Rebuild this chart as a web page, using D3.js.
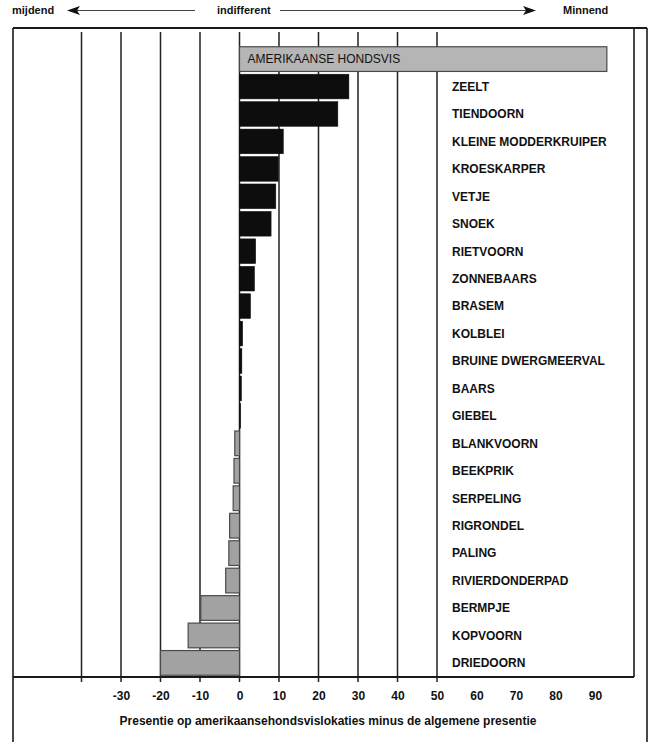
<!DOCTYPE html>
<html><head><meta charset="utf-8">
<script src="https://cdn.jsdelivr.net/npm/d3@7"></script>
<style>
html,body{margin:0;padding:0;background:#fff;}
svg{display:block;font-family:"Liberation Sans",Arial,sans-serif;}
</style></head>
<body>
<svg id="c" width="657" height="742"></svg>
<script>
const categories = ["AMERIKAANSE HONDSVIS","ZEELT","TIENDOORN","KLEINE MODDERKRUIPER","KROESKARPER","VETJE","SNOEK","RIETVOORN","ZONNEBAARS","BRASEM","KOLBLEI","BRUINE DWERGMEERVAL","BAARS","GIEBEL","BLANKVOORN","BEEKPRIK","SERPELING","RIGRONDEL","PALING","RIVIERDONDERPAD","BERMPJE","KOPVOORN","DRIEDOORN"];
const values = [93, 27.7, 24.9, 11.1, 9.8, 9.2, 8.0, 4.1, 3.8, 2.8, 0.8, 0.6, 0.5, 0.3, -1.2, -1.4, -1.6, -2.5, -2.7, -3.5, -9.8, -13, -20];
const gridValues = [-40,-30,-20,-10,0,10,20,30,40,50];
const tickLabels = [-30,-20,-10,0,10,20,30,40,50,60,70,80,90];
const headerLabels = ["mijdend","indifferent","Minnend"];
const axisTitle = "Presentie op amerikaansehondsvislokaties minus de algemene presentie";

const svg = d3.select("#c");
const x = d3.scaleLinear().domain([0, 90]).range([239.5, 595]);
const y = d3.scaleBand().domain(categories).range([44, 678]).padding(0.1);
const axisY = 677;

// frame
const ink = "#1a1a1a";
svg.append("line").attr("x1",13).attr("x2",13).attr("y1",28).attr("y2",742).attr("stroke",ink).attr("stroke-width",1.6);
svg.append("line").attr("x1",13).attr("x2",647).attr("y1",28).attr("y2",28).attr("stroke",ink).attr("stroke-width",1.8);
svg.append("line").attr("x1",634).attr("x2",634).attr("y1",28).attr("y2",axisY).attr("stroke",ink).attr("stroke-width",1.6);
svg.append("line").attr("x1",647).attr("x2",647).attr("y1",28).attr("y2",742).attr("stroke",ink).attr("stroke-width",1.6);

// gridlines
svg.append("g").selectAll("line").data(gridValues).join("line")
  .attr("x1",d=>x(d)).attr("x2",d=>x(d)).attr("y1",32).attr("y2",axisY+5)
  .attr("stroke","#222").attr("stroke-width",1.5);

// bars
const fillOf = (d,i) => i===0 ? "#b5b5b5" : (d<0 ? "#a2a2a2" : "#0d0d0d");
svg.append("g").selectAll("rect").data(values).join("rect")
  .attr("x",d=>x(Math.min(0,d)))
  .attr("width",d=>Math.max(1.2, Math.abs(x(d)-x(0))))
  .attr("y",(d,i)=>y(categories[i]))
  .attr("height",y.bandwidth())
  .attr("fill",fillOf)
  .attr("stroke",(d,i)=> (i===0||d<0) ? "#4a4a4a" : "#0d0d0d")
  .attr("stroke-width",(d,i)=> (i===0||d<0) ? 1.2 : 0.5);

// category labels
svg.append("g").selectAll("text").data(categories).join("text")
  .attr("x",(d,i)=> i===0 ? x(0)+8 : 452)
  .attr("y",d=>y(d)+y.bandwidth()/2)
  .attr("dy","0.36em")
  .attr("font-size",12)
  .attr("font-weight",(d,i)=> i===0 ? "normal" : "bold")
  .attr("fill","#111")
  .text(d=>d);

// axis line
svg.append("line").attr("x1",13).attr("x2",634).attr("y1",axisY).attr("y2",axisY).attr("stroke",ink).attr("stroke-width",2);

// tick labels
const axis = d3.axisBottom(x).tickValues(tickLabels).tickSize(0).tickPadding(0).tickFormat(d=>d);
const ag = svg.append("g").attr("transform",`translate(0,${axisY})`).call(axis);
ag.select(".domain").remove();
ag.selectAll("text").attr("y",23).attr("dy",0).attr("font-size",12).attr("font-weight","bold")
  .attr("font-family","Liberation Sans, Arial, sans-serif").attr("fill","#111");

// axis title
svg.append("text").attr("x",328).attr("y",725).attr("text-anchor","middle")
  .attr("font-size",12).attr("font-weight","bold").attr("fill","#111").text(axisTitle);

// header
const hy = 14;
svg.append("text").attr("x",12).attr("y",hy).attr("font-size",11).attr("font-weight","bold").attr("fill","#111").text(headerLabels[0]);
svg.append("text").attr("x",217).attr("y",hy).attr("font-size",11).attr("font-weight","bold").attr("fill","#111").text(headerLabels[1]);
svg.append("text").attr("x",563).attr("y",hy).attr("font-size",11).attr("font-weight","bold").attr("fill","#111").text(headerLabels[2]);
const ay = 10.5;
svg.append("line").attr("x1",74).attr("x2",195).attr("y1",ay).attr("y2",ay).attr("stroke","#444").attr("stroke-width",1);
svg.append("path").attr("d",`M67,${ay} L80,${ay-4.5} L77,${ay} L80,${ay+4.5} Z`).attr("fill","#111");
svg.append("line").attr("x1",280).attr("x2",528).attr("y1",ay).attr("y2",ay).attr("stroke","#444").attr("stroke-width",1);
svg.append("path").attr("d",`M536,${ay} L523,${ay-4.5} L526,${ay} L523,${ay+4.5} Z`).attr("fill","#111");
</script>
</body></html>
